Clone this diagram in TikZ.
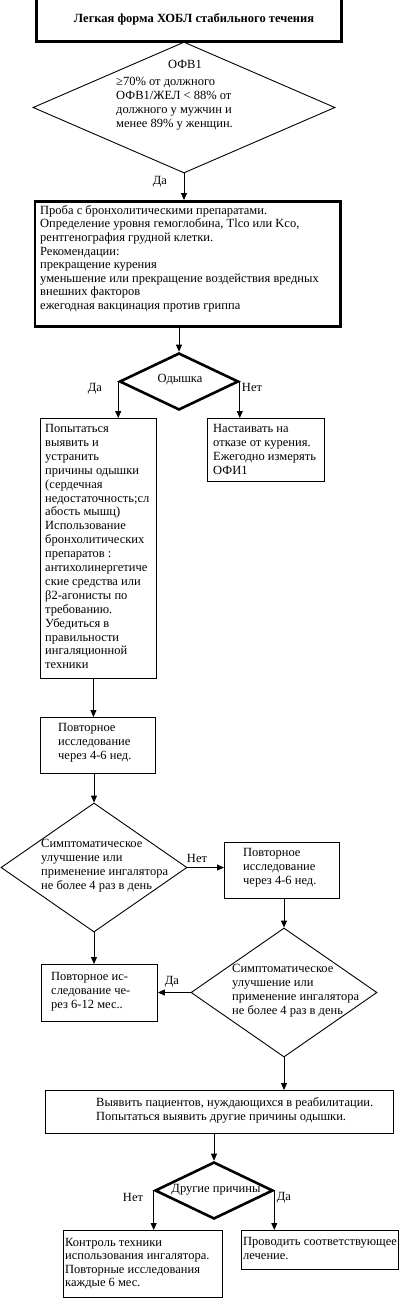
\documentclass[tikz,border=0pt]{standalone}
\usepackage{fontspec}
\setmainfont{Liberation Serif}
\usetikzlibrary{shapes.geometric,arrows.meta}

\begin{document}
\begin{tikzpicture}[x=1pt,y=-1pt,
    box/.style={draw, rectangle, inner sep=0pt, anchor=north west, line width=0.9pt},
    heavy/.style={line width=2.6pt},
    decision/.style={draw, diamond, inner sep=0pt, line width=0.9pt},
    txt/.style={anchor=north west, yshift=9.8pt, align=left, inner sep=0pt,
        font=\fontsize{12.5}{14}\selectfont, execute at begin node=\strut},
    lbl/.style={inner sep=0pt, font=\fontsize{12.5}{14}\selectfont},
    flow/.style={->, line width=0.9pt},
    >={Triangle[length=7pt,width=6pt]}]
    \useasboundingbox (0,0) rectangle (400,1298);

    % Draw the boxes
    \node [box, heavy, minimum width=305, minimum height=43] (title) at (35,-3) {};
    \node [box, heavy, minimum width=305.5, minimum height=125] (tests) at (33.5,200) {};
    \node [box, minimum width=116, minimum height=260] (cause) at (40,418) {};
    \node [box, minimum width=117, minimum height=63] (smoke) at (207,418) {};
    \node [box, minimum width=115, minimum height=56] (recheckA) at (40,717) {};
    \node [box, minimum width=115, minimum height=56] (recheckB) at (224,842) {};
    \node [box, minimum width=116, minimum height=57] (recheckC) at (41,964) {};
    \node [box, minimum width=348, minimum height=43] (rehab) at (45,1090) {};
    \node [box, minimum width=159, minimum height=67] (control) at (63,1230) {};
    \node [box, minimum width=157, minimum height=39] (treat) at (241,1230) {};

    % Draw the decisions
    \node [decision, minimum width=302, minimum height=131] (fev) at (184,107.5) {};
    \node [decision, heavy, minimum width=119, minimum height=57] (dyspnea) at (179,381.5) {};
    \node [decision, minimum width=186, minimum height=129] (symA) at (94,867.5) {};
    \node [decision, minimum width=186, minimum height=129] (symB) at (284,992.5) {};
    \node [decision, heavy, minimum width=118, minimum height=57] (other) at (214,1190.5) {};

    % Texts
    \node [lbl, anchor=base, font=\fontsize{12.5}{14}\selectfont\bfseries] (titletext) at (194,23)
        {Легкая форма ХОБЛ стабильного течения};
    \node [lbl, anchor=base] (fevhead) at (185,68) {ОФВ1};
    \node [txt] (fevtext) at (116,87)
        {≥70\% от должного\\ОФВ1/ЖЕЛ < 88\% от\\должного  у мужчин и\\менее 89\% у женщин.};
    \node [txt, font=\fontsize{12.5}{13.6}\selectfont] (teststext) at (40,215)
        {Проба  с бронхолитическими препаратами.\\Определение уровня гемоглобина, Tlco или Kco,\\рентгенография  грудной клетки.\\Рекомендации:\\прекращение  курения\\уменьшение или прекращение воздействия вредных\\внешних факторов\\ежегодная вакцинация против гриппа};
    \node [lbl] (dyspneatext) at (180,380) {Одышка};
    \node [txt, font=\fontsize{12.5}{13.9}\selectfont] (causetext) at (45,434)
        {Попытаться\\выявить и\\устранить\\причины одышки\\(сердечная\\недостаточность;сл\\абость мышц)\\Использование\\бронхолитических\\препаратов :\\антихолинергетиче\\ские средства или\\β2-агонисты по\\требованию.\\Убедиться в\\правильности\\ингаляционной\\техники};
    \node [txt] (smoketext) at (213,434)
        {Настаивать на\\отказе от курения.\\Ежегодно измерять\\ОФИ1};
    \node [txt] (recheckAtext) at (58,733) {Повторное\\исследование\\через 4-6 нед.};
    \node [txt] (symAtext) at (41,849)
        {Симптоматическое\\улучшение или\\применение  ингалятора\\не более 4 раз в день};
    \node [txt] (recheckBtext) at (243,858) {Повторное\\исследование\\через 4-6 нед.};
    \node [txt] (symBtext) at (232,974)
        {Симптоматическое\\улучшение или\\применение  ингалятора\\не более 4 раз в день};
    \node [txt] (recheckCtext) at (51,982) {Повторное ис-\\следование че-\\рез 6-12 мес..};
    \node [txt] (rehabtext) at (96,1107)
        {Выявить пациентов, нуждающихся в реабилитации.\\Попытаться выявить другие причины одышки.};
    \node [lbl] (othertext) at (216,1190) {Другие причины};
    \node [txt, font=\fontsize{12.5}{13.2}\selectfont] (controltext) at (65,1248)
        {Контроль техники\\использования ингалятора.\\Повторные исследования\\каждые 6 мес.};
    \node [txt] (treattext) at (243,1247) {Проводить соответствующее\\лечение.};

    % Branch labels
    \node [lbl] (yesA) at (160,182) {Да};
    \node [lbl] (yesB) at (95,389) {Да};
    \node [lbl] (noB) at (252,387) {Нет};
    \node [lbl] (noC) at (197,858) {Нет};
    \node [lbl] (yesD) at (172,982) {Да};
    \node [lbl] (noE) at (133,1197) {Нет};
    \node [lbl] (yesE) at (284,1198) {Да};

    % Draw the connectors
    \draw [flow] (fev.south) -- (fev.south |- tests.north);
    \draw [flow] (dyspnea.north |- tests.south) -- (dyspnea.north);
    \draw [flow] (dyspnea.west) -- (dyspnea.west |- cause.north);
    \draw [flow] (dyspnea.east) -- (dyspnea.east |- smoke.north);
    \draw [flow] ([xshift=-5]cause.south) -- ([xshift=-5]cause.south |- recheckA.north);
    \draw [flow] (symA.north |- recheckA.south) -- (symA.north);
    \draw [flow] (symA.east) -- (recheckB.west |- symA.east);
    \draw [flow] (symB.north |- recheckB.south) -- (symB.north);
    \draw [flow] (symB.west) -- (recheckC.east |- symB.west);
    \draw [flow] (symA.south) -- (symA.south |- recheckC.north);
    \draw [flow] (symB.south) -- (symB.south |- rehab.north);
    \draw [flow] (other.north |- rehab.south) -- (other.north);
    \draw [flow] (other.west) -- (other.west |- control.north);
    \draw [flow] (other.east) -- (other.east |- treat.north);

\end{tikzpicture}
\end{document}
